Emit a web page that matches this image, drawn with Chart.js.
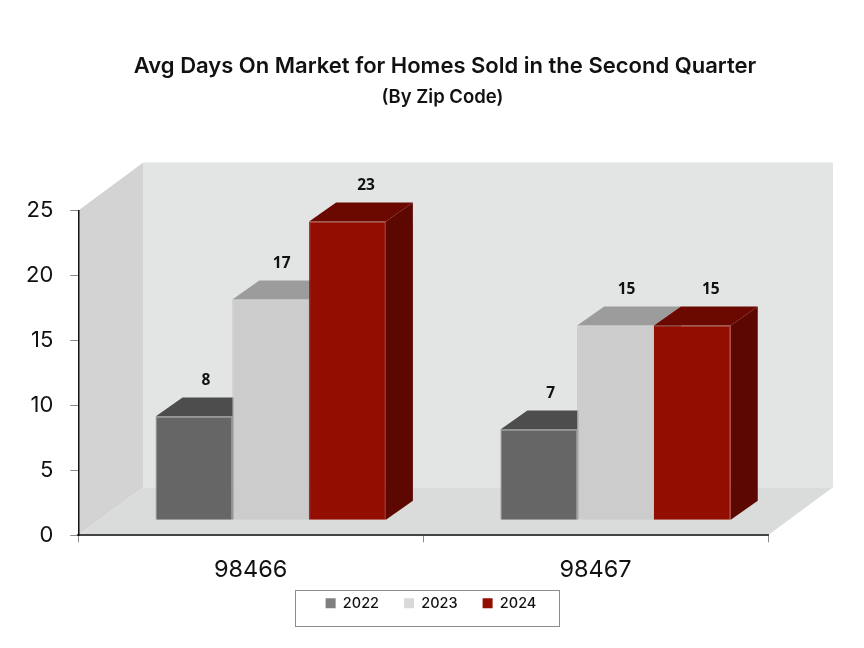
<!DOCTYPE html>
<html>
<head>
<meta charset="utf-8">
<style>html,body{margin:0;padding:0;background:#fff}#w{width:864px;height:648px}</style>
<script src="https://cdn.jsdelivr.net/npm/chart.js@4"></script>
</head>
<body>
<div id="w"><canvas id="c" width="864" height="648"></canvas></div>
<script>
const categories = ['98466', '98467'];
const series2022 = [8, 7];
const series2023 = [17, 15];
const series2024 = [23, 15];
const seriesNames = ['2022', '2023', '2024'];
const yTicks = [0, 5, 10, 15, 20, 25];
const titleText = 'Avg Days On Market for Homes Sold in the Second Quarter';
const subtitleText = '(By Zip Code)';

const frontColors = ['#666666', '#cccccc', '#930d00'];
const edgeColors = ['#8f8f8f', '#c2c2c2', '#930d00'];
const topColors = ['#4d4d4d', '#9c9c9c', '#6b0800'];
const sideColors = ['#4a4a4a', '#a0a0a0', '#5c0700'];
const legendColors = ['#808080', '#d9d9d9', '#930d00'];

const WALL = {dx: 65, dy: 48};
const BAR = {shiftX: 20, shiftY: -15, dx: 27, dy: 19};
const labelDx = [12, 11, 18.5];

function poly(ctx, pts, fill) {
  ctx.beginPath();
  pts.forEach((p, i) => i ? ctx.lineTo(p[0], p[1]) : ctx.moveTo(p[0], p[1]));
  ctx.closePath();
  ctx.fillStyle = fill;
  ctx.fill();
}

const scene3d = {
  id: 'scene3d',
  afterLayout(chart) {
    const t = chart.boxes.find(b => b.options && b.options.text === titleText);
    const s = chart.boxes.find(b => b.options && b.options.text === subtitleText);
    const l = chart.legend;
    const shift = (b, cx, cy) => {
      const w = b.width, h = b.height;
      b.left = cx - w / 2; b.right = cx + w / 2;
      b.top = cy - h / 2; b.bottom = cy + h / 2;
    };
    shift(t, 445, 66);
    shift(s, 442.5, 97);
    l.left = 0; l.right = 862; l.width = 862;
    const h = l.height;
    l.top = 608 - 37; l.bottom = l.top + h;
    l.adjustHitBoxes();
  },
  beforeDraw(chart) {
    const ctx = chart.ctx, a = chart.chartArea;
    const {left: L, right: R, top: T, bottom: B} = a;
    const {dx, dy} = WALL;
    ctx.save();
    poly(ctx, [[L + dx, T - dy], [R + dx, T - dy], [R + dx, B - dy], [L + dx, B - dy]], '#e3e4e4');
    poly(ctx, [[L, T], [L + dx, T - dy], [L + dx, B - dy], [L, B]], '#d3d3d3');
    poly(ctx, [[L, B], [L + dx, B - dy], [R + dx, B - dy], [R, B]], '#dadbdb');
    // legend frame
    const hb = chart.legend.legendHitBoxes;
    if (hb && hb.length) {
      const x0 = hb[0].left - 31, x1 = hb[hb.length - 1].left + hb[hb.length - 1].width + 22;
      ctx.strokeStyle = '#8c8c8c';
      ctx.lineWidth = 1;
      ctx.strokeRect(Math.round(x0) + .5, 590.5, Math.round(x1 - x0), 36);
    }
    ctx.restore();
  },
  beforeDatasetsDraw(chart) {
    const ctx = chart.ctx;
    ctx.save();
    ctx.translate(BAR.shiftX, BAR.shiftY);
    chart.data.datasets.forEach((ds, i) => {
      chart.getDatasetMeta(i).data.forEach(b => {
        const x0 = b.x - b.width / 2, x1 = b.x + b.width / 2, y0 = b.y, y1 = b.base;
        const {dx, dy} = BAR;
        poly(ctx, [[x1, y0], [x1 + dx, y0 - dy], [x1 + dx, y1 - dy], [x1, y1]], sideColors[i]);
        poly(ctx, [[x0, y0], [x0 + dx, y0 - dy], [x1 + dx, y0 - dy], [x1, y0]], topColors[i]);
      });
    });
  },
  afterDatasetsDraw(chart) {
    const ctx = chart.ctx;
    ctx.restore();
    ctx.save();
    ctx.font = 'bold 15.5px "Open Sans"';
    ctx.fillStyle = '#111';
    ctx.textAlign = 'center';
    ctx.textBaseline = 'middle';
    chart.data.datasets.forEach((ds, i) => {
      chart.getDatasetMeta(i).data.forEach((b, j) => {
        ctx.fillText(String(ds.data[j]), b.x + BAR.shiftX + labelDx[i], b.y + BAR.shiftY - 36);
      });
    });
    ctx.restore();
  }
};

new Chart(document.getElementById('c'), {
  type: 'bar',
  plugins: [scene3d],
  data: {
    labels: categories,
    datasets: [series2022, series2023, series2024].map((d, i) => ({
      label: seriesNames[i],
      data: d,
      backgroundColor: frontColors[i],
      borderColor: edgeColors[i],
      borderWidth: 1,
      categoryPercentage: 0.668,
      barPercentage: 1
    }))
  },
  options: {
    responsive: false,
    animation: false,
    layout: {padding: {left: 9, right: 96, top: 162, bottom: 0}},
    plugins: {
      tooltip: {enabled: false},
      title: {
        display: true, text: titleText, color: '#111',
        font: {family: 'Inter', size: 22, weight: '600'},
        padding: 0
      },
      subtitle: {
        display: true, text: subtitleText, color: '#111',
        font: {family: 'Inter', size: 18.5, weight: '600'},
        padding: 0
      },
      legend: {
        display: true, position: 'bottom',
        labels: {
          boxWidth: 10, boxHeight: 10, padding: 25, color: '#111',
          font: {family: 'Inter', size: 14.5, weight: '500'},
          generateLabels: (chart) => chart.data.datasets.map((d, i) => ({
            text: d.label, fillStyle: legendColors[i], strokeStyle: legendColors[i],
            lineWidth: 0, datasetIndex: i, fontColor: '#111'
          }))
        }
      }
    },
    scales: {
      x: {
        grid: {drawOnChartArea: false, color: '#8a8a8a', tickLength: 7, offset: true},
        border: {color: '#444', width: 2},
        ticks: {color: '#111', font: {family: 'Inter', size: 23.5}, padding: 14}
      },
      y: {
        min: 0, max: 25,
        afterBuildTicks: (ax) => { ax.ticks = yTicks.map(v => ({value: v})); },
        grid: {drawOnChartArea: false, color: '#8a8a8a', tickLength: 8},
        border: {color: '#111', width: 1.5},
        ticks: {color: '#111', font: {family: 'Inter', size: 22}, padding: 17}
      }
    }
  }
});
</script>
</body>
</html>
